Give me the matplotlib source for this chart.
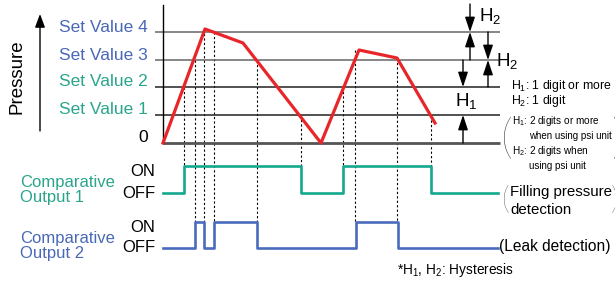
import numpy as np
import matplotlib.pyplot as plt

plt.rcParams['font.family'] = ['Liberation Sans', 'DejaVu Sans']
plt.rcParams['mathtext.fontset'] = 'custom'
plt.rcParams['mathtext.rm'] = 'Liberation Sans'
plt.rcParams['mathtext.it'] = 'Liberation Sans'

# everything is laid out in picture units (x to the right, y downwards)
set_labels = ['0', 'Set Value 1', 'Set Value 2', 'Set Value 3', 'Set Value 4']
set_y = [143, 115, 87, 60, 32]

# pressure curve
pressure_t = [163, 205, 243, 321, 359, 397, 435]
pressure_y = [143, 29, 43, 143, 50, 58, 123]

# switching points (dashed guides): x, top (crossing) and bottom (output edge)
guide_x = [184, 195, 204, 214, 257, 301, 343, 355, 397, 431]
guide_top = [87, 60, 29, 32, 60, 115, 87, 50, 58, 120]
guide_bot = [166, 222, 222, 222, 222, 166, 166, 222, 222, 166]

# comparative outputs (1 = ON, 0 = OFF)
out1_t = [163, 184, 301, 343, 431, 498]
out1_state = [0, 1, 0, 1, 0, 0]
out1_levels = (193, 166)
out2_t = [163, 195, 204, 214, 257, 356, 398, 498]
out2_state = [0, 1, 0, 1, 0, 1, 0, 0]
out2_levels = (248, 222)

red = '#e8262a'
teal = '#14a88e'
blue = '#4a6bbd'
teal_txt = '#2aa58c'
blue_txt = '#4a68b8'

fig = plt.figure(figsize=(6.15, 2.82), dpi=100)
ax = fig.add_axes([0, 0, 1, 1])
ax.set_xlim(0, 615)
ax.set_ylim(282, 0)
ax.axis('off')

# level lines
line_cols = ['#555555', '#222222', '#222222', '#666666', '#666666']
for i, y in enumerate(set_y):
    x0 = 163 if i == 0 else 155
    ax.plot([x0, 500], [y, y], color=line_cols[i], lw=2.0 if i == 0 else 1.1,
            solid_capstyle='butt', zorder=1)
ax.plot([163, 163], [5, 143], color='black', lw=1.0)

# labels on the left
for i, (lab, y) in enumerate(zip(set_labels, set_y)):
    col = 'black' if i == 0 else (teal_txt if i <= 2 else blue_txt)
    ax.text(148, y - 5, lab, color=col, fontsize=12.5, ha='right', va='center')

ax.text(17, 77, 'Pressure', rotation=90, fontsize=13.5, ha='center', va='center')
ax.annotate('', xy=(40, 14), xytext=(40, 131),
            arrowprops=dict(arrowstyle='-|>,head_length=0.8,head_width=0.3',
                            color='black', lw=1.0, shrinkA=0, shrinkB=0))

# dashed guides
for x, t, b in zip(guide_x, guide_top, guide_bot):
    ax.plot([x, x], [t, b], color='black', lw=0.8, ls=(0, (2, 2)), zorder=0)

ax.plot(pressure_t, pressure_y, color=red, lw=2.3, zorder=3)

# outputs
y1 = np.where(np.array(out1_state) == 1, out1_levels[1], out1_levels[0])
y2 = np.where(np.array(out2_state) == 1, out2_levels[1], out2_levels[0])
ax.step(out1_t, y1, where='post', color=teal, lw=1.9, zorder=3)
ax.step(out2_t, y2, where='post', color=blue, lw=1.9, zorder=3)

ax.text(20, 190, 'Comparative\nOutput 1', color=teal_txt, fontsize=12,
        ha='left', va='center', linespacing=1.0)
ax.text(20, 246, 'Comparative\nOutput 2', color=blue_txt, fontsize=12,
        ha='left', va='center', linespacing=1.0)
for lev in (out1_levels, out2_levels):
    ax.text(155, lev[1] + 5, 'ON', fontsize=12, ha='right', va='center')
    ax.text(155, lev[0], 'OFF', fontsize=12, ha='right', va='center')

# hysteresis arrows
def arrow(x, y_from, y_to):
    ax.annotate('', xy=(x, y_to), xytext=(x, y_from),
                arrowprops=dict(arrowstyle='-|>,head_length=0.9,head_width=0.3',
                                color='black', lw=1.0, shrinkA=0, shrinkB=0))

arrow(470, 4, set_y[4])
arrow(470, set_y[3], set_y[4])
arrow(488, set_y[4], set_y[3])
arrow(488, set_y[2], set_y[3])
arrow(463, set_y[3], set_y[2])
arrow(463, set_y[0], set_y[1])

ax.text(479, 16, 'H$_2$', fontsize=13.5, ha='left', va='center')
ax.text(496, 61, 'H$_2$', fontsize=13.5, ha='left', va='center')
ax.text(455, 101, 'H$_1$', fontsize=13.5, ha='left', va='center')

ax.text(511, 86, 'H$_1$: 1 digit or more', fontsize=8.8, ha='left', va='center')
ax.text(511, 101, 'H$_2$: 1 digit', fontsize=8.8, ha='left', va='center')
ax.text(512, 121, 'H$_1$: 2 digits or more', fontsize=7.2, ha='left', va='center')
ax.text(529, 136, 'when using psi unit', fontsize=7.0, ha='left', va='center')
ax.text(512, 151, 'H$_2$: 2 digits when', fontsize=7.2, ha='left', va='center')
ax.text(529, 166, 'using psi unit', fontsize=7.0, ha='left', va='center')

thin = dict(family=['Lato', 'DejaVu Sans'], fontweight='light', color='#333333')
ax.text(501, 141, '(', fontsize=34, ha='left', va='center', **thin)
ax.text(611, 141, ')', fontsize=34, ha='left', va='center', **thin)
ax.text(502, 201, '(', fontsize=22, ha='left', va='center', **thin)
ax.text(611, 201, ')', fontsize=22, ha='left', va='center', **thin)

ax.text(510, 192, 'Filling pressure', fontsize=10.8, ha='left', va='center')
ax.text(510, 210, 'detection', fontsize=10.8, ha='left', va='center')
ax.text(499, 247, '(Leak detection)', fontsize=11.2, ha='left', va='center')
ax.text(397, 270, '*H$_1$, H$_2$: Hysteresis', fontsize=9.8, ha='left', va='center')

fig.savefig('out.png', dpi=100)
